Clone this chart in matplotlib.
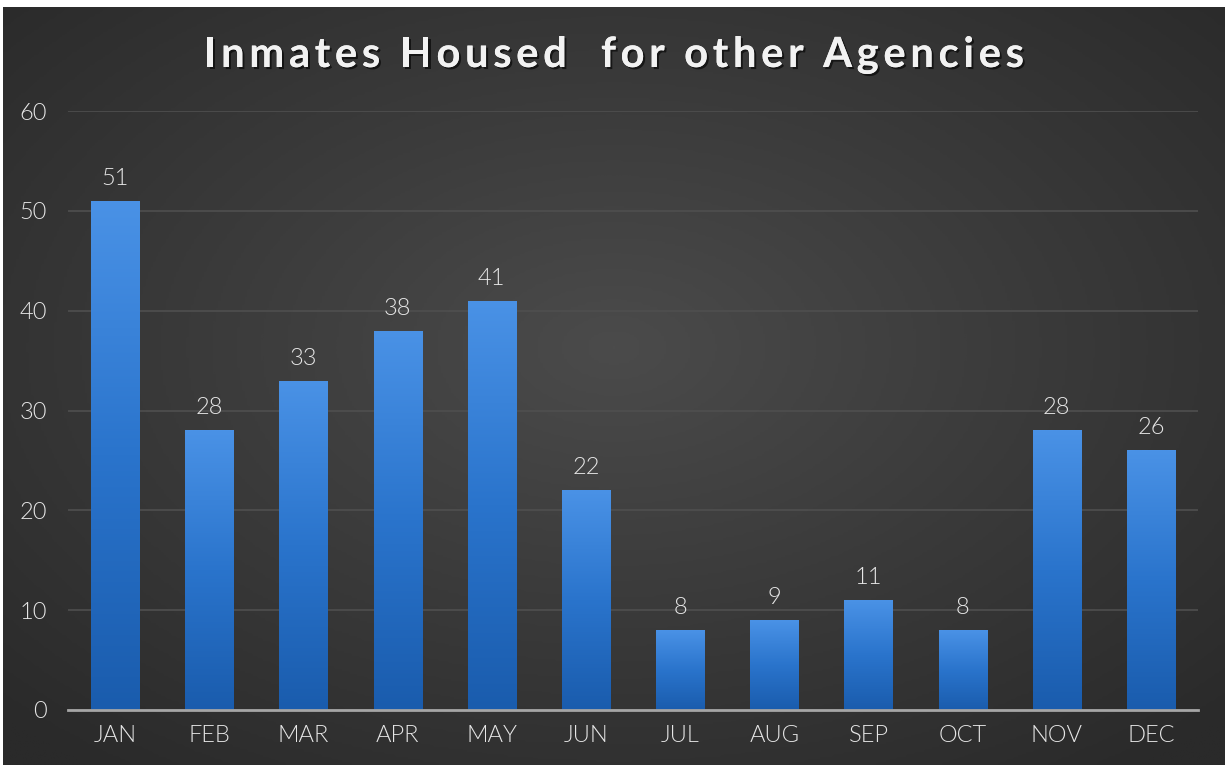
import numpy as np
import matplotlib.pyplot as plt
import matplotlib.patheffects as pe
from matplotlib.colors import LinearSegmentedColormap
from matplotlib.font_manager import FontProperties

months = ["JAN", "FEB", "MAR", "APR", "MAY", "JUN", "JUL", "AUG", "SEP", "OCT", "NOV", "DEC"]
inmates = [51, 28, 33, 38, 41, 22, 8, 9, 11, 8, 28, 26]
y_ticks = [0, 10, 20, 30, 40, 50, 60]
title = "Inmates Housed  for other Agencies"

plt.rcParams['font.family'] = ['Lato', 'DejaVu Sans']

W, H = 1225, 767
fig = plt.figure(figsize=(W / 100, H / 100), dpi=100)
fig.patch.set_facecolor('white')

# dark panel with radial gradient
bg = fig.add_axes([3 / W, 2 / H, 1222 / W, 758 / H])
bg.set_axis_off()
yy, xx = np.mgrid[-1:1:300j, -1:1:480j]
r = np.sqrt(xx ** 2 + (yy + 0.1) ** 2)
bg_cmap = LinearSegmentedColormap.from_list('bg', ['#4b4b4b', '#3a3a3a', '#2a2a2a'])
bg.imshow(r, cmap=bg_cmap, aspect='auto', extent=(0, 1, 0, 1), vmin=0, vmax=1.4)
bg.set_xlim(0, 1)
bg.set_ylim(0, 1)

ax = fig.add_axes([68 / W, 57 / H, 1130 / W, 599 / H])
ax.patch.set_alpha(0)
x = np.arange(len(months))
bars = ax.bar(x, inmates, width=0.51, color='#2f7fd6', zorder=2)

bar_cmap = LinearSegmentedColormap.from_list('bar', ['#1a5cad', '#2a74cc', '#4a92e6'])
grad = np.linspace(0, 1, 256).reshape(-1, 1)
for b in bars:
    x0, y0 = b.get_x(), b.get_y()
    im = ax.imshow(grad, cmap=bar_cmap, origin='lower', aspect='auto',
                   extent=(x0, x0 + b.get_width(), y0, y0 + b.get_height()), zorder=3)
    im.set_clip_path(b)

label_color = '#e6e6e6'
label_weight = 300
for xi, v in zip(x, inmates):
    ax.text(xi, v + 1.2, str(v), ha='center', va='bottom', color=label_color,
            fontsize=17, fontweight=label_weight)

ax.set_xlim(-0.5, len(months) - 0.5)
ax.set_ylim(0, 60)
ax.set_xticks(x)
ax.set_xticklabels(months)
ax.set_yticks(y_ticks)
ax.tick_params(axis='both', length=0, colors=label_color, labelsize=17)
ax.tick_params(axis='x', pad=11)
ax.tick_params(axis='y', pad=15)
for lbl in ax.get_xticklabels() + ax.get_yticklabels():
    lbl.set_fontweight(label_weight)
ax.grid(axis='y', color='#4f4f4f', linewidth=1.2, zorder=0)
ax.set_axisbelow(True)
for s in ['top', 'right', 'left']:
    ax.spines[s].set_visible(False)
ax.spines['bottom'].set_color('#a6a6a6')
ax.spines['bottom'].set_linewidth(2)
ax.spines['bottom'].set_zorder(4)

# title with letter spacing, laid out char by char
prop = FontProperties(family=['Lato', 'DejaVu Sans'], weight='bold', size=30)
renderer = fig.canvas.get_renderer()
def text_w(s):
    w, _, _ = renderer.get_text_width_height_descent(s, prop, ismath=False)
    return w
bar_w = text_w('|')
spacing = 4.7
adv = [text_w(title[:i] + '|') - bar_w for i in range(len(title) + 1)]
total = adv[-1] + spacing * (len(title) - 1)
start = 614 - total / 2
shadow = [pe.withSimplePatchShadow(offset=(1.5, -1.5), shadow_rgbFace='black', alpha=0.6), pe.Normal()]
for i, ch in enumerate(title):
    if ch == ' ':
        continue
    px = start + adv[i] + spacing * i
    fig.text(px / W, 1 - 55 / H, ch, ha='left', va='center', color='#f2f2f2',
             fontproperties=prop, path_effects=shadow)

fig.savefig('out.png', dpi=100)
